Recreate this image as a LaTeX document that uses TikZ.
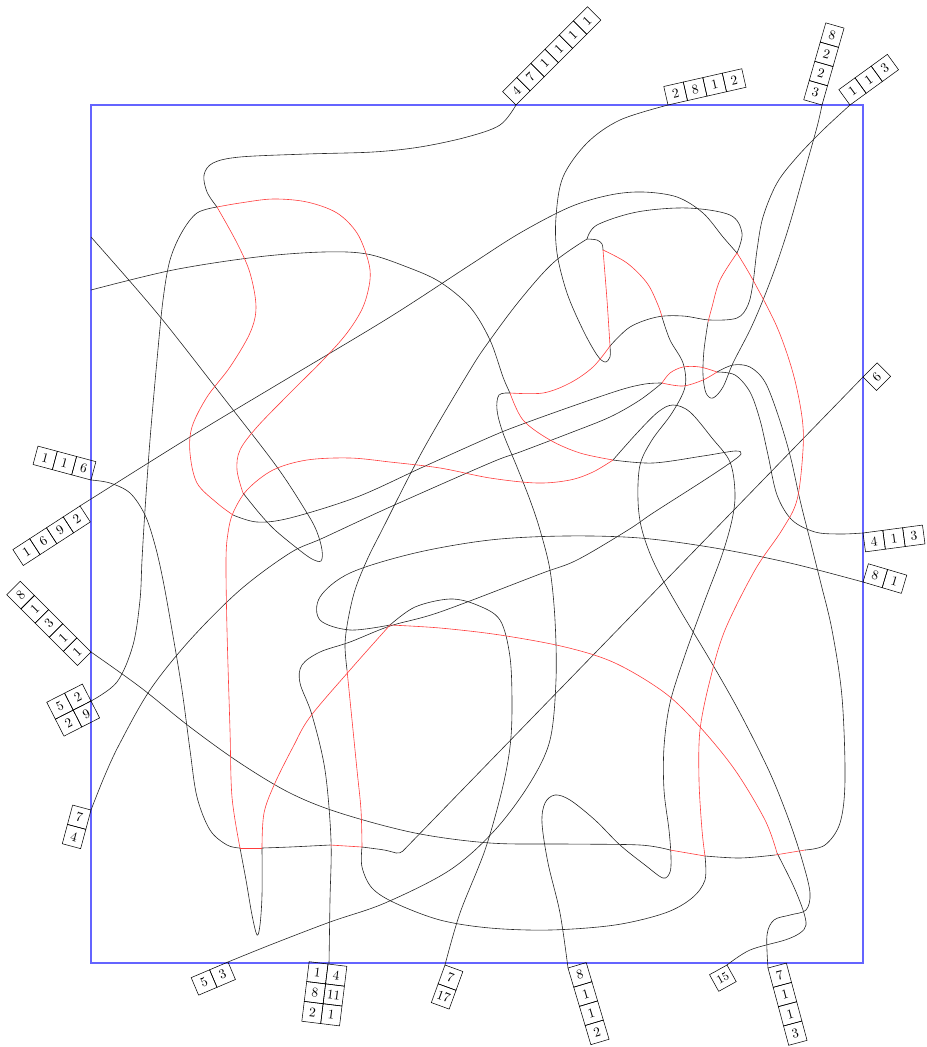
\documentclass[tikz,border=0pt]{standalone}
\definecolor{framecol}{RGB}{100,100,255}
\definecolor{redcol}{RGB}{255,60,60}
\newcommand{\lblchain}[6]{%
  \begin{scope}[shift={(#1)},rotate=#2]
    \foreach \lab [count=\i from 0] in {#5}{
      \draw[cellbox] (\i*20,0) rectangle ({(\i+1)*20},{#3*19});
      \node[rotate=#4,inner sep=0pt] (#6-\i) at ({\i*20+10},{#3*9.5}) {\lab};
    }
  \end{scope}}
\tikzset{
  blk/.style={black!85,line width=0.45pt},
  rd/.style={redcol,line width=0.45pt},
  bluerect/.style={color=framecol,line width=0.8pt},
  cellbox/.style={draw=black,line width=0.4pt},
  sm/.style={smooth,tension=0.55}
}
\begin{document}
\begin{tikzpicture}[x=0.75pt,y=-0.75pt]
\useasboundingbox (0,0) rectangle (926,1047);
\draw[bluerect] (91,105) -- (863,105) -- (863,963) -- (91,963) -- cycle;

% ---------- black strands ----------
\draw[blk] plot[sm] coordinates {(516,105) (500,125) (467,137) (420,147) (373,152) (307,154) (240,157) (213,163) (204,175) (207,192) (217,207)};
\draw[blk] plot[sm] coordinates {(217,207) (197,213) (182,232) (170,260) (163,300) (157,360) (150,440) (145,510) (142,560) (140,600) (133,645) (117,682) (91,701)};
\draw[blk] plot[sm] coordinates {(91,237) (157,313) (223,397) (277,467) (307,513) (317,532) (322,550) (321,561) (312,559) (298,549) (275,530) (260,514) (243,493)};
\draw[blk] plot[sm] coordinates {(91,290) (173,270) (257,257) (323,252) (367,254) (407,267) (440,282) (470,307) (490,340) (503,377) (510,393)};
\draw[blk] plot[sm] coordinates {(510,393) (499,395) (497,410) (503,433) (517,467) (530,500) (540,530) (550,570) (555,620) (556,680) (550,740) (530,783) (495,830) (450,870) (385,903) (330,922) (270,945) (228,962)};
\draw[blk] plot[sm] coordinates {(668,105) (620,120) (587,143) (563,177) (556,217) (557,253) (567,293) (583,330) (597,355) (605,362) (610,357) (610,346)};
\draw[blk] plot[sm] coordinates {(850,105) (823,130) (797,157) (777,183) (763,217) (757,250) (753,283) (748,305) (737,318) (710,320) (683,316) (657,317) (630,327) (610,346)};
\draw[blk] plot[sm] coordinates {(80,506) (91,499) (190,437) (290,377) (390,317) (470,265) (520,233) (570,207) (610,195) (643,192) (677,197) (703,213) (723,237) (737,253)};
\draw[blk] plot[sm] coordinates {(705,856) (705,880) (692,898) (665,913) (615,925) (550,930) (490,928) (440,920) (395,903) (372,888) (362,867) (362,847)};
\draw[blk] plot[sm] coordinates {(587,239) (553,263) (520,300) (490,340) (470,370) (423,450) (382,530) (367,560) (355,590) (348,620) (345,645) (347,670)};
\draw[blk] plot[sm] coordinates {(587,239) (597,225) (637,212) (687,208) (730,215) (742,233) (737,253)};
\draw[blk] plot[sm] coordinates {(587,239) (597,240) (602,244) (603,250)};
\draw[blk] plot[sm] coordinates {(822,105) (817,127) (803,177) (790,223) (777,263) (763,300) (750,330) (733,363) (723,387) (713,398) (706,393) (703,375) (704,350) (708,322)};
\draw[blk] plot[sm] coordinates {(662,317) (670,340) (683,363) (685,387) (672,413) (652,440) (640,465) (638,500) (642,530) (655,565) (680,610) (710,660) (740,713) (770,773) (790,823) (803,863) (810,893) (806,910) (790,915) (774,920) (767,935) (768,968)};
\draw[blk] plot[sm] coordinates {(329,964) (330,900) (331,840) (325,770) (312,715) (300,683) (302,665) (320,652) (350,642) (390,626) (440,612) (540,574) (577,560) (628,530) (653,513) (703,481) (730,463) (741,454) (735,451) (703,456) (653,463) (613,460)};
\draw[blk] plot[sm] coordinates {(568,968) (560,913) (548,863) (542,823) (545,803) (555,795) (570,800) (595,820) (620,845) (645,865) (663,878) (670,872) (671,857) (669,830) (664,790) (664,747) (670,703) (685,655) (705,600) (722,555) (732,520) (735,493) (730,462) (712,438) (690,412) (673,405) (658,412) (637,433) (613,460)};
\draw[blk] plot[sm] coordinates {(91,480) (110,483) (130,493) (145,515) (155,545) (163,580) (172,630) (182,690) (190,750) (197,797) (210,830) (227,845) (240,848)};
\draw[blk] plot[sm] coordinates {(262,848) (290,847) (330,845)};
\draw[blk,rounded corners=3pt] (362,847) -- (385,850) -- (400,854) -- (863,377);
\draw[blk] plot[sm] coordinates {(240,848) (246,880) (252,915) (257,935) (260,925) (262,895) (262,848)};
\draw[blk] plot[sm] coordinates {(233,515) (257,522) (290,518) (357,497) (423,467) (490,437) (520,425) (570,407) (620,390) (645,384) (662,383)};
\draw[blk] plot[sm] coordinates {(91,810) (105,775) (120,743) (150,690) (190,640) (240,590) (290,553) (323,538) (390,507) (490,463) (520,452) (570,433) (610,417) (640,400) (662,383)};
\draw[blk] plot[sm] coordinates {(717,372) (733,365) (750,367) (765,382) (778,415) (790,455) (800,500) (810,540) (820,580) (832,630) (842,697) (845,780) (840,823) (825,845) (805,850)};
\draw[blk] plot[sm] coordinates {(717,372) (735,375) (750,392) (760,420) (768,455) (777,495) (792,520) (815,532) (840,534) (863,533)};
\draw[blk] plot[sm] coordinates {(91,652) (140,687) (190,727) (240,763) (290,793) (340,813) (415,833) (490,843) (565,844) (640,845) (670,850)};
\draw[blk] plot[sm] coordinates {(705,856) (740,858) (775,855)};
\draw[blk] plot[sm] coordinates {(863,582) (790,563) (715,548) (640,538) (565,536) (490,540) (415,553) (350,573) (320,597) (320,620) (350,630) (390,625)};
\draw[blk] plot[sm] coordinates {(445,965) (460,913) (485,850) (502,790) (510,747) (512,707) (510,657) (500,620) (477,605) (450,599) (415,607) (390,625)};
\draw[blk] plot[sm] coordinates {(727,965) (750,950) (785,940) (800,933) (806,925) (803,910) (793,885) (777,853)};

% ---------- red strands ----------
\draw[rd] plot[sm] coordinates {(217,207) (237,243) (250,273) (256,307) (250,333) (230,367) (207,397) (192,427) (190,453) (197,483) (217,503) (233,515)};
\draw[rd] plot[sm] coordinates {(217,207) (240,203) (273,199) (307,202) (337,213) (357,233) (368,260) (370,280) (363,307) (347,333) (323,360) (290,393) (257,427) (240,450) (237,470) (243,493)};
\draw[rd] plot[sm] coordinates {(240,848) (232,797) (230,730) (227,630) (226,560) (228,533) (233,513) (247,490) (273,470) (307,460) (350,458) (390,462) (440,468) (490,478) (537,483) (570,480) (593,472) (613,460)};
\draw[rd] plot[sm] coordinates {(510,393) (523,420) (550,440) (580,453) (613,460)};
\draw[rd] plot[sm] coordinates {(603,250) (607,300) (610,346)};
\draw[rd] plot[sm] coordinates {(610,346) (593,367) (570,383) (543,393) (510,393)};
\draw[rd] plot[sm] coordinates {(603,250) (627,263) (647,283) (658,305) (662,317)};
\draw[rd] plot[sm] coordinates {(708,322) (712,307) (720,280) (737,253)};
\draw[rd] plot[sm] coordinates {(737,253) (753,280) (777,327) (793,373) (802,417) (803,450) (797,500) (782,530) (755,570) (725,630) (710,680) (700,730) (699,780) (702,830) (705,856)};
\draw[rd] plot[sm] coordinates {(347,670) (352,720) (357,770) (361,810) (362,847)};
\draw[rd] plot[sm] coordinates {(262,848) (264,813) (275,783) (293,747) (310,717) (350,670) (390,625)};
\draw[rd] plot[sm] coordinates {(390,625) (440,628) (500,635) (565,647) (615,663) (665,693) (700,727) (735,770) (765,820) (777,853)};
\draw[rd] plot[sm] coordinates {(662,383) (670,373) (683,367) (700,367) (717,372)};
\draw[rd] plot[sm] coordinates {(662,383) (683,386) (703,380) (717,372)};
\draw[rd] (240,848) -- (262,848);
\draw[rd] (330,845) -- (362,847);
\draw[rd] (670,850) -- (705,856);
\draw[rd] (775,855) -- (805,850);

% ---------- label chains ----------
\lblchain{516,105}{45}{-1}{45}{4,7,1,1,1,1}{ta}
\lblchain{668,105}{12.8}{-1}{12.8}{2,8,1,2}{tb}
\lblchain{822,105}{74}{-1}{-16}{3,2,2,8}{tc}
\lblchain{850,105}{36}{-1}{36}{1,1,3}{td}
\lblchain{863,377}{45}{1}{45}{6}{ra}
\lblchain{863,533}{7.6}{1}{7.6}{4,1,3}{rb}
\lblchain{863,582}{-16.5}{-1}{-16.5}{8,1}{rc}
\lblchain{91,480}{165}{1}{-15}{6,1,1}{la}
\lblchain{80,506}{213}{-1}{33}{2,9,6,1}{lb}
\lblchain{91,652}{135}{-1}{45}{1,1,3,1,8}{lc}
\lblchain{91,701}{207}{1}{27}{2,5}{ld}
\lblchain{91,701}{207}{-1}{27}{9,2}{le}
\lblchain{91,810}{255}{1}{-15}{7,4}{lf}
\lblchain{228,962}{203}{-1}{23}{3,5}{ba}
\lblchain{328,964}{263}{1}{-7}{1,8,2}{bb}
\lblchain{328,964}{263}{-1}{-7}{4,11,1}{bc}
\lblchain{445,965}{250}{-1}{-20}{7,17}{bd}
\lblchain{568,968}{286.6}{-1}{16.6}{8,1,1,2}{be}
\lblchain{727,965}{209}{-1}{29}{\small 15}{bf}
\lblchain{768,968}{285}{-1}{15}{7,1,1,3}{bg}
\end{tikzpicture}
\end{document}
